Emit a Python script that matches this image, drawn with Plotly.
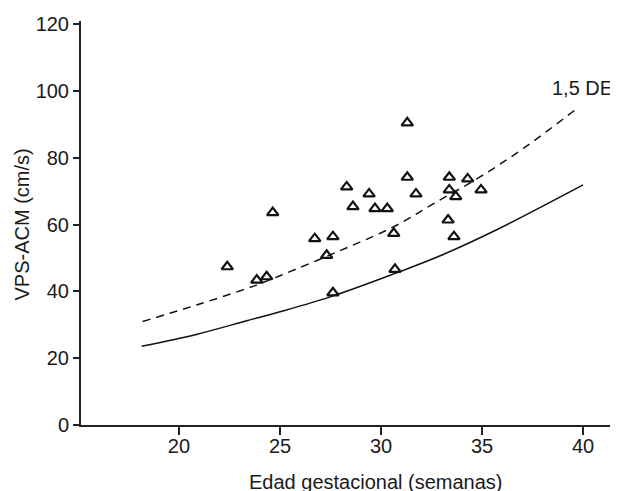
import plotly.graph_objects as go

# Observed data points (gestational age in weeks, VPS-ACM in cm/s)
edad_puntos = [22.39, 23.85, 24.34, 24.64, 26.72, 27.62, 27.31, 27.62, 28.30, 28.61,
               29.41, 29.70, 30.31, 30.63, 30.69, 31.30, 31.30, 31.73, 33.38, 33.38,
               33.70, 33.32, 33.61, 34.29, 34.95]
vps_puntos = [47.4, 43.4, 44.4, 63.6, 55.8, 56.4, 50.8, 39.6, 71.3, 65.4,
              69.2, 64.8, 64.8, 57.4, 46.6, 90.5, 74.2, 69.2, 74.2, 70.4,
              68.4, 61.4, 56.4, 73.7, 70.4]

# Reference curve (solid)
edad_media = [18.15, 20.9, 23.35, 25.0, 27.6, 30.7, 32.9, 35.7, 40.0]
vps_media = [23.6, 27.2, 31.2, 33.9, 38.6, 45.4, 50.6, 58.4, 71.9]

# 1,5 DE curve (dashed)
edad_de = [18.2, 20.9, 23.7, 25.0, 28.0, 30.7, 32.6, 34.9, 37.2, 39.7]
vps_de = [31.0, 36.0, 41.6, 44.7, 52.3, 59.6, 66.3, 74.3, 83.5, 94.8]

x_ticks = [20, 25, 30, 35, 40]
y_ticks = [0, 20, 40, 60, 80, 100, 120]

FONT = "Liberation Sans, Arial, Helvetica, sans-serif"

fig = go.Figure()
fig.add_trace(go.Scatter(x=edad_media, y=vps_media, mode="lines",
                         line=dict(color="#111111", width=1.5, shape="spline", smoothing=1.0),
                         showlegend=False, hoverinfo="skip"))
fig.add_trace(go.Scatter(x=edad_de, y=vps_de, mode="lines",
                         line=dict(color="#111111", width=1.5, dash="8px,6px", shape="spline", smoothing=1.0),
                         showlegend=False, hoverinfo="skip"))
fig.add_trace(go.Scatter(x=edad_puntos, y=vps_puntos, mode="markers",
                         marker=dict(symbol="triangle-up-open", size=10, color="#111111",
                                     line=dict(color="#111111", width=2.2)),
                         showlegend=False))

fig.update_layout(
    width=610, height=483,
    margin=dict(l=73, r=0, t=13, b=66),
    paper_bgcolor="white", plot_bgcolor="white",
    font=dict(family=FONT, size=20, color="#1a1a1a"),
    xaxis=dict(range=[15.15, 41.73], tickvals=x_ticks, ticks="outside", ticklen=8,
               tickwidth=1.5, tickcolor="#222222", showline=True, linecolor="#222222",
               linewidth=2, showgrid=False, zeroline=False, fixedrange=True,
               ticklabelstandoff=-6, tickfont=dict(size=20)),
    yaxis=dict(range=[0, 121], tickvals=y_ticks, ticks="outside", ticklen=6,
               tickwidth=1.5, tickcolor="#222222", showline=True, linecolor="#222222",
               linewidth=2, showgrid=False, zeroline=False, fixedrange=True,
               tickfont=dict(size=20)),
    annotations=[
        dict(text="Edad gestacional (semanas)", xref="paper", yref="paper",
             x=0.549, y=-0.141, xanchor="center", yanchor="middle",
             showarrow=False, font=dict(size=20)),
        dict(text="VPS-ACM (cm/s)", xref="paper", yref="paper",
             x=-0.110, y=0.496, xanchor="center", yanchor="middle", textangle=-90,
             showarrow=False, font=dict(size=20)),
        dict(text="1,5 DE", xref="x", yref="y", x=39.98, y=100.8,
             xanchor="center", yanchor="middle", showarrow=False, font=dict(size=20)),
    ],
)

fig.write_html("out.html")
